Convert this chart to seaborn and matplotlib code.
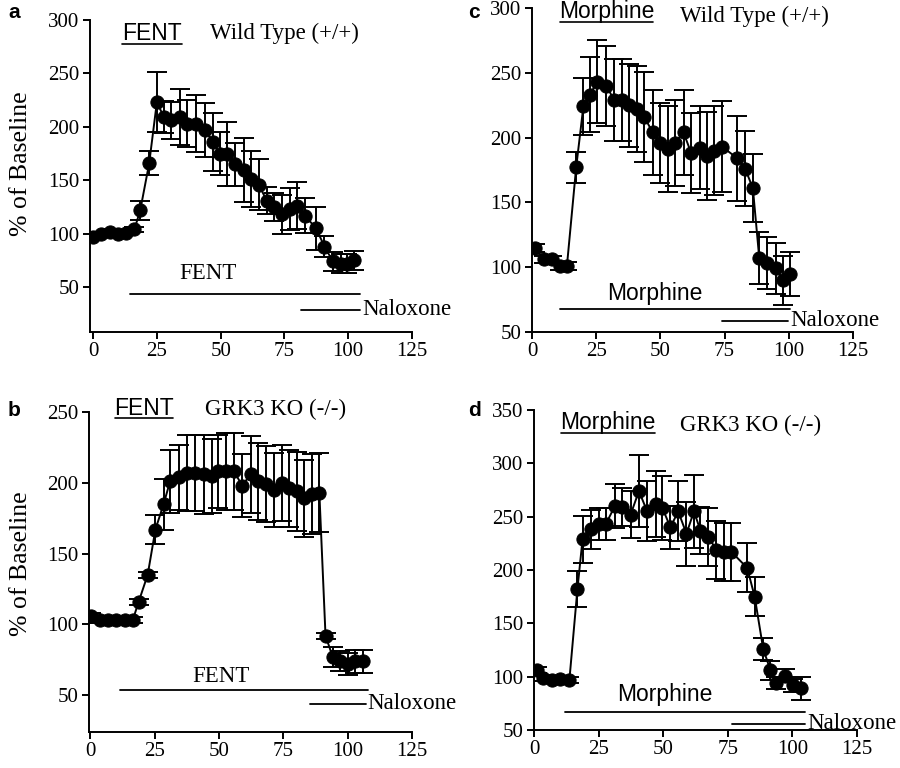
import numpy as np
import pandas as pd
import matplotlib
matplotlib.use("Agg")
import matplotlib.pyplot as plt
import seaborn as sns

# ---------------- data ----------------
# Panel a: FENT, Wild Type
a_x = [0, 3.2, 6.5, 9.7, 13, 16.2, 18.5, 22, 25, 27.8, 30.7, 34, 37, 40.5, 43.8, 47, 49.6, 52.5,
       55.7, 59, 62, 65, 68, 71, 74, 77, 80, 83, 87.4, 90.7, 94, 97, 99.7, 102.3]
a_y = [97, 100, 102, 100, 101, 104, 122, 166, 223, 209, 206, 209, 203, 203, 197, 186, 175, 175,
       165, 160, 151, 146, 131, 125, 118, 123, 126, 117, 105, 88, 74, 72, 72, 75]
a_err = [2, 2, 2, 2, 2, 2, 9, 11, 28, 15, 17, 26, 22, 27, 25, 27, 20, 30,
         20, 30, 26, 24, 13, 13, 18, 20, 22, 16, 20, 10, 9, 9, 9, 9]

# Panel b: FENT, GRK3 KO
b_x = [0.4, 3.6, 6.8, 10, 13.3, 16.5, 18.8, 22.3, 25.3, 28.5, 31, 34.3, 37.4, 40.8, 44, 47.2, 49.8,
       52.6, 55.9, 59, 62.3, 65.3, 68.4, 71.4, 74.3, 77.4, 80.4, 83, 86.2, 89, 91.4, 94.2, 97.2,
       100.1, 103, 106]
b_y = [106, 103, 103, 103, 103, 103, 116, 135, 167, 185, 201, 204, 207, 207, 206, 205, 208,
       208, 208, 198, 206, 201, 199, 195, 200, 196, 194, 189, 192, 193, 92, 77, 74,
       72, 74, 74]
b_err = [2, 2, 2, 2, 2, 2, 2, 2, 10, 18, 22, 23, 27, 27, 28, 26, 26,
         27, 27, 22, 27, 27, 27, 26, 27, 27, 28, 27, 28, 28, 2, 7, 7,
         8, 8, 8]

# Panel c: Morphine, Wild Type
c_x = [1.3, 4.5, 7.8, 10.8, 13.6, 17.2, 20, 22.4, 25.5, 28.9, 32, 35, 37.6, 40.8, 43.7, 47, 49.9,
       52.8, 55.7, 59, 62, 65.4, 68, 71, 74, 80, 83, 86, 88.5, 91.6, 95, 97.8, 100.6]
c_y = [115, 106, 106, 101, 101, 177, 224, 233, 243, 240, 229, 229, 225, 222, 216, 204, 196,
       191, 196, 204, 188, 192, 186, 190, 193, 184, 176, 161, 107, 103, 99, 90, 95]
c_err = [3, 3, 3, 3, 3, 12, 22, 29, 32, 31, 32, 32, 32, 33, 35, 33, 31,
         33, 33, 33, 31, 32, 34, 34, 35, 33, 29, 26, 20, 20, 20, 19, 17]

# Panel d: Morphine, GRK3 KO
d_x = [1.3, 3.6, 6.8, 10, 13.7, 16.8, 18.8, 21.9, 25.3, 27.8, 31.3, 33.9, 37.4, 40.6, 43.8, 47.2,
       49.7, 52.8, 55.8, 59, 61.9, 64.4, 67.4, 70.6, 73.5, 76.4, 82.5, 85.4, 88.7, 91.5, 93.8,
       97, 100.3, 103.5]
d_y = [106, 99, 97, 98, 97, 182, 229, 238, 243, 243, 260, 259, 252, 274, 255, 262,
       258, 240, 255, 234, 255, 237, 231, 219, 217, 217, 202, 175, 126, 106, 94,
       101, 92, 89]
d_err = [3, 3, 3, 3, 3, 17, 22, 18, 15, 15, 21, 18, 22, 34, 28, 31,
         30, 20, 28, 30, 34, 22, 27, 27, 27, 27, 23, 18, 10, 9, 6,
         6, 6, 11]

x_ticks = [0, 25, 50, 75, 100, 125]

# ---------------- style ----------------
sns.set_theme(style="ticks")
plt.rcParams['font.family'] = ['Liberation Serif', 'DejaVu Serif']
plt.rcParams['text.color'] = 'black'
plt.rcParams['axes.labelcolor'] = 'black'
plt.rcParams['xtick.color'] = 'black'
plt.rcParams['ytick.color'] = 'black'
SERIF = ['Liberation Serif', 'DejaVu Serif']
SANS = ['Liberation Sans', 'DejaVu Sans']
TXT = 16.5

fig = plt.figure(figsize=(9, 7.68), dpi=100)
W, H = 900, 768


def add_ax(left, top, right, bottom):
    return fig.add_axes([left / W, 1 - bottom / H, (right - left) / W, (bottom - top) / H])


panels = [
    dict(key='a', x=a_x, y=a_y, e=a_err, box=(90, 20, 412, 332), ylim=(8, 300),
         yt=[50, 100, 150, 200, 250, 300], xlim=(-1.2, 125),
         drug='FENT', geno='Wild Type (+/+)',
         t_drug=(0.10, 0.286, 0.958, 0.922), t_geno=(0.373, 0.958),
         bot_txt=('FENT', 45, 63, False), drug_line=(14.6, 104.7, 44),
         nal_line=(81.6, 104.7, 29), lab=(8, 12)),
    dict(key='b', x=b_x, y=b_y, e=b_err, box=(89, 412, 412, 732), ylim=(24, 250),
         yt=[50, 100, 150, 200, 250], xlim=(-0.5, 125),
         drug='FENT', geno='GRK3 KO (-/-)',
         t_drug=(0.08, 0.26, 1.012, 0.98), t_geno=(0.36, 1.008),
         bot_txt=('FENT', 50.7, 63, False), drug_line=(11.6, 108, 54),
         nal_line=(85.5, 107, 44), lab=(8, 410)),
    dict(key='c', x=c_x, y=c_y, e=c_err, box=(532, 8, 853, 332), ylim=(50, 300),
         yt=[50, 100, 150, 200, 250, 300], xlim=(0, 125),
         drug='Morphine', geno='Wild Type (+/+)',
         t_drug=(0.087, 0.377, 0.99, 0.957), t_geno=(0.461, 0.974),
         bot_txt=('Morphine', 48, 79.5, True), drug_line=(11, 100.6, 68),
         nal_line=(73.8, 99.7, 58.5), lab=(468, 12)),
    dict(key='d', x=d_x, y=d_y, e=d_err, box=(534, 410, 857, 730), ylim=(50, 350),
         yt=[50, 100, 150, 200, 250, 300, 350], xlim=(0, 125),
         drug='Morphine', geno='GRK3 KO (-/-)',
         t_drug=(0.084, 0.375, 0.961, 0.927), t_geno=(0.452, 0.953),
         bot_txt=('Morphine', 50.6, 83, True), drug_line=(12, 104.8, 66.5),
         nal_line=(76.8, 104.8, 56), lab=(468, 410)),
]

for p in panels:
    l, t, r, b = p['box']
    ax = add_ax(l, t, r, b)
    df = pd.DataFrame({'time': p['x'], 'pct': p['y']})
    ax.errorbar(p['x'], p['y'], yerr=p['e'], fmt='none', ecolor='black',
                elinewidth=1.4, capsize=7, capthick=1.4, zorder=2)
    sns.lineplot(data=df, x='time', y='pct', ax=ax, color='black', linewidth=1.4,
                 marker='o', markersize=9.5, markeredgecolor='black',
                 markerfacecolor='black', zorder=3, legend=False)
    ax.set_xlim(*p['xlim'])
    ax.set_ylim(*p['ylim'])
    ax.set_xticks(x_ticks)
    ax.set_yticks(p['yt'])
    ax.set_xlabel('')
    ax.set_ylabel('')
    for s in ['top', 'right']:
        ax.spines[s].set_visible(False)
    for s in ['left', 'bottom']:
        ax.spines[s].set_linewidth(1.4)
        ax.spines[s].set_color('black')
    ax.tick_params(axis='both', direction='out', length=5, width=1.4,
                   labelsize=15, colors='black', labelcolor='black', pad=2.5)
    for lbl in ax.get_xticklabels() + ax.get_yticklabels():
        lbl.set_family(SERIF)

    # header texts
    x0, x1, ty, uy = p['t_drug']
    ax.text((x0 + x1) / 2, ty, p['drug'], transform=ax.transAxes, ha='center',
            va='center', fontsize=TXT, family=SANS, color='black')
    ax.plot([x0, x1], [uy, uy], transform=ax.transAxes, color='black', lw=1.2,
            clip_on=False)
    gx, gy = p['t_geno']
    ax.text(gx, gy, p['geno'], transform=ax.transAxes, ha='left', va='center',
            fontsize=TXT, family=SERIF, color='black')

    # bottom drug / naloxone bars
    txt, tx, ty2, sans = p['bot_txt']
    ax.text(tx, ty2, txt, ha='center', va='center', fontsize=TXT,
            family=SANS if sans else SERIF, color='black')
    dx0, dx1, dy = p['drug_line']
    ax.plot([dx0, dx1], [dy, dy], color='black', lw=1.3, clip_on=False)
    nx0, nx1, ny = p['nal_line']
    ax.plot([nx0, nx1], [ny, ny], color='black', lw=1.3, clip_on=False)
    ax.text(nx1 + 0.8, ny, 'Naloxone', ha='left', va='center', fontsize=TXT,
            family=SERIF, clip_on=False, color='black')

    lx, ly = p['lab']
    fig.text(lx / W, 1 - ly / H, p['key'], ha='left', va='center', fontsize=15,
             fontweight='bold', family=SANS, color='black')

fig.text(21 / W, 1 - 164 / H, '% of Baseline', rotation=90, ha='center', va='center',
         fontsize=18.5, family=SERIF, color='black')
fig.text(21 / W, 1 - 564 / H, '% of Baseline', rotation=90, ha='center', va='center',
         fontsize=18.5, family=SERIF, color='black')

fig.savefig('out.png', dpi=100)
